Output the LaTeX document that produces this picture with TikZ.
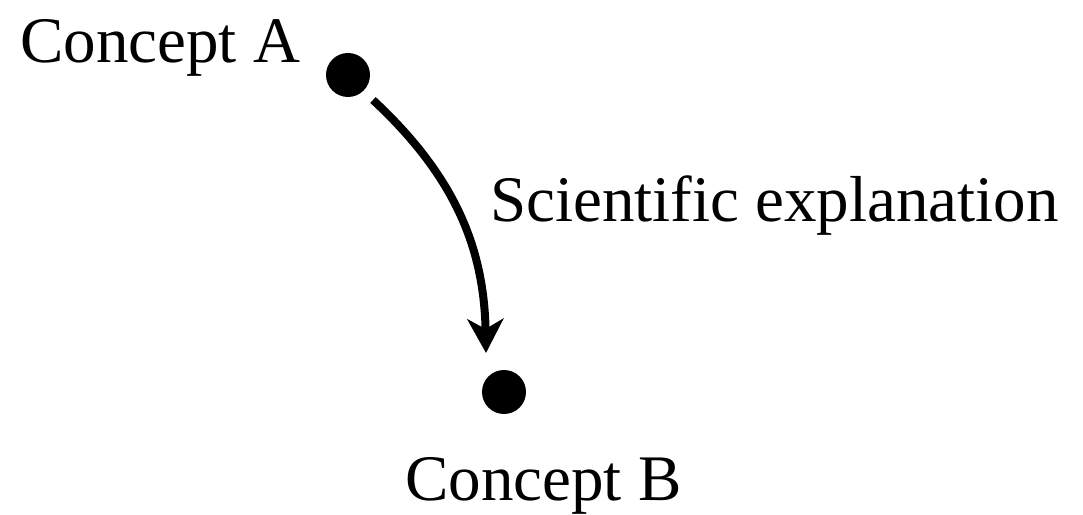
\documentclass[tikz,border=0pt]{standalone}
\usepackage{fontspec}
\newfontfamily\timesfont{Liberation Serif}[Ligatures=NoCommon]
\usetikzlibrary{arrows.meta,positioning,calc}

\begin{document}
\begin{tikzpicture}[x=1pt, y=1pt, every node/.style={font=\timesfont\fontsize{65}{78}\selectfont}, dot/.style={circle, fill, minimum size=44pt, inner sep=0pt}, lbl/.style={anchor=base west, inner sep=0pt}, arr/.style={-{Stealth[length=34pt,width=36pt,inset=10pt]}, line width=8pt}]
\useasboundingbox (0,0) rectangle (1083,514);
\node[dot] (conceptA) at (348,439) {};
\node[dot] (conceptB) at (504,122) {};
\node[lbl] (labelA) at (20,451) {Concept A};
\node[lbl] (labelB) at (405,14) {Concept B};
\node[lbl] (explain) at (490,292) {Scientific explanation};
\coordinate (start) at ($(conceptA)+(25,-25)$);
\coordinate (tip) at ($(conceptB)+(-18,39)$);
\draw[arr] (start) to[bend left=23] (tip);
\end{tikzpicture}
\end{document}
